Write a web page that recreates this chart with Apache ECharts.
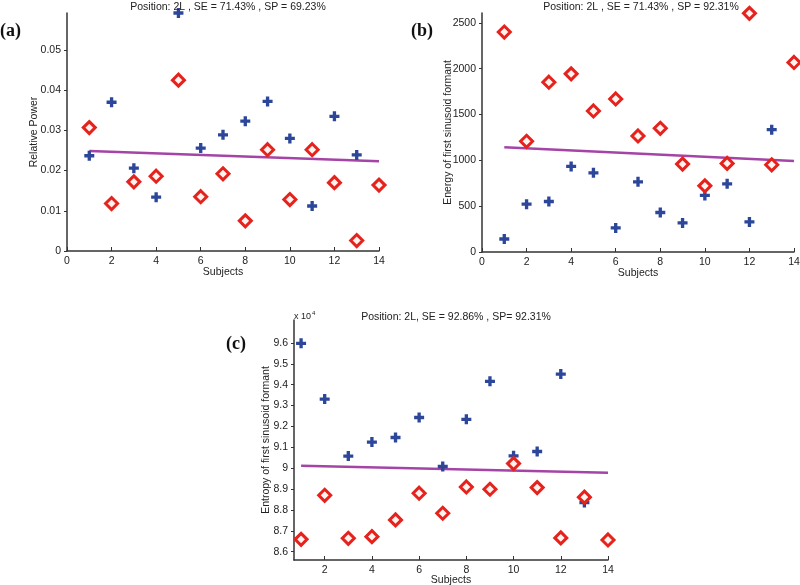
<!DOCTYPE html>
<html>
<head>
<meta charset="utf-8">
<script src="https://cdn.jsdelivr.net/npm/echarts@6/dist/echarts.min.js"></script>
<style>
  html, body { margin: 0; padding: 0; background: #fff; }
  #main { width: 800px; height: 585px; }
</style>
</head>
<body>
<div id="main"></div>
<script>
// subjects (x values)
var subjectsRed = [1, 2, 3, 4, 5, 6, 7, 8, 9, 10, 11, 12, 13, 14];
var subjectsBlue = [1, 2, 3, 4, 5, 6, 7, 8, 9, 10, 11, 12, 13];
var fitX = [1, 14];

// (a) relative power
var powerBlue = [0.0237, 0.0370, 0.0206, 0.0134, 0.0592, 0.0256, 0.0289, 0.0323, 0.0372, 0.0280, 0.0112, 0.0335, 0.0239];
var powerRed = [0.0307, 0.0118, 0.0172, 0.0186, 0.0425, 0.0135, 0.0192, 0.0075, 0.0252, 0.0128, 0.0252, 0.0170, 0.0026, 0.0164];
var powerFit = [0.0249, 0.0223];

// (b) energy of first sinusoid formant
var energyBlue = [142, 522, 551, 934, 864, 263, 766, 431, 317, 617, 744, 328, 1335];
var energyRed = [2400, 1208, 1853, 1944, 1539, 1670, 1266, 1350, 959, 722, 967, 2604, 952, 2068];
var energyFit = [1142, 992];

// (c) entropy of first sinusoid formant (x 10^4)
var entropyBlue = [9.598, 9.331, 9.058, 9.125, 9.147, 9.243, 9.008, 9.234, 9.416, 9.059, 9.080, 9.451, 8.835];
var entropyRed = [8.659, 8.870, 8.664, 8.672, 8.752, 8.880, 8.784, 8.910, 8.899, 9.022, 8.907, 8.666, 8.861, 8.656];
var entropyFit = [9.012, 8.978];

// tick values
var xTicksAB = [0, 2, 4, 6, 8, 10, 12, 14];
var xTicksC = [2, 4, 6, 8, 10, 12, 14];
var yTicksA = [0, 0.01, 0.02, 0.03, 0.04, 0.05];
var yTicksB = [0, 500, 1000, 1500, 2000, 2500];
var yTicksC = [8.6, 8.7, 8.8, 8.9, 9, 9.1, 9.2, 9.3, 9.4, 9.5, 9.6];

var titles = [
  'Position: 2L , SE = 71.43% , SP = 69.23%',
  'Position: 2L , SE = 71.43% , SP = 92.31%',
  'Position: 2L, SE = 92.86% , SP= 92.31%'
];

var BLUE = '#2c4699';
var RED = '#e5221c';
var FIT = '#a444a6';
var FONT = '"Liberation Sans", Arial, sans-serif';
var PLUS = 'path://M3,0H6V3H9V6H6V9H3V6H0V3H3Z';

function pairs(xs, ys) {
  return ys.map(function (v, i) { return [xs[i], v]; });
}

function plain(v) {
  return String(Math.round(v * 10000) / 10000);
}

function xAxis(grid, min, ticks, nameGap) {
  return {
    type: 'value', gridIndex: grid, min: min, max: 14,
    name: 'Subjects', nameLocation: 'middle', nameGap: nameGap, nameMoveOverlap: false,
    nameTextStyle: { fontFamily: FONT, fontSize: 10.5, color: '#222' },
    axisLine: { lineStyle: { color: '#333', width: 1.5 } },
    axisTick: { inside: true, length: 4, customValues: ticks, lineStyle: { color: '#333' } },
    axisLabel: { customValues: ticks, fontFamily: FONT, fontSize: 10.5, color: '#222', margin: 5, formatter: plain },
    splitLine: { show: false }
  };
}

function yAxis(grid, min, max, ticks, name, nameGap) {
  return {
    type: 'value', gridIndex: grid, min: min, max: max,
    name: name, nameLocation: 'middle', nameGap: nameGap, nameMoveOverlap: false,
    nameTextStyle: { fontFamily: FONT, fontSize: 10.5, color: '#222' },
    axisLine: { show: true, lineStyle: { color: '#333', width: 1.5 } },
    axisTick: { show: true, inside: false, length: 3, customValues: ticks, lineStyle: { color: '#333' } },
    axisLabel: { customValues: ticks, fontFamily: FONT, fontSize: 10.5, color: '#222', margin: 6, formatter: plain },
    splitLine: { show: false }
  };
}

function group(idx, blue, red, fit) {
  return [
    {
      type: 'line', xAxisIndex: idx, yAxisIndex: idx, data: pairs(fitX, fit),
      symbol: 'none', lineStyle: { color: FIT, width: 2.5 }, z: 2
    },
    {
      type: 'scatter', xAxisIndex: idx, yAxisIndex: idx, data: pairs(subjectsBlue, blue),
      symbol: PLUS, symbolSize: 10, itemStyle: { color: BLUE, opacity: 1 }, z: 3
    },
    {
      type: 'scatter', xAxisIndex: idx, yAxisIndex: idx, data: pairs(subjectsRed, red),
      symbol: 'diamond', symbolSize: [12, 12],
      itemStyle: { color: '#fff3f0', borderColor: RED, borderWidth: 3, opacity: 1 }, z: 4
    }
  ];
}

var titleStyle = { fontFamily: FONT, fontSize: 10.5, fontWeight: 'normal', color: '#222' };

var option = {
  backgroundColor: '#fff',
  animation: false,
  title: [
    { text: titles[0], left: 223, top: -3, textAlign: 'center', textStyle: titleStyle },
    { text: titles[1], left: 636, top: -3, textAlign: 'center', textStyle: titleStyle },
    { text: titles[2], left: 451, top: 307, textAlign: 'center', textStyle: titleStyle }
  ],
  graphic: [
    { type: 'text', left: 0, top: 22, style: { text: '(a)', font: 'bold 18px "Liberation Serif", serif', fill: '#111' } },
    { type: 'text', left: 411, top: 22, style: { text: '(b)', font: 'bold 18px "Liberation Serif", serif', fill: '#111' } },
    { type: 'text', left: 226, top: 335, style: { text: '(c)', font: 'bold 18px "Liberation Serif", serif', fill: '#111' } },
    { type: 'text', left: 294, top: 312, style: { text: 'x 10', font: '9px ' + FONT, fill: '#222' } },
    { type: 'text', left: 312, top: 310, style: { text: '4', font: '6px ' + FONT, fill: '#222' } }
  ],
  grid: [
    { left: 67, top: 13, width: 312, height: 238, outerBoundsMode: 'none' },
    { left: 482, top: 13, width: 312, height: 239, outerBoundsMode: 'none' },
    { left: 294, top: 320, width: 314, height: 240, outerBoundsMode: 'none' }
  ],
  xAxis: [
    xAxis(0, 0, xTicksAB, 16),
    xAxis(1, 0, xTicksAB, 16),
    xAxis(2, 0.7, xTicksC, 15)
  ],
  yAxis: [
    yAxis(0, 0, 0.0592, yTicksA, 'Relative Power', 27),
    yAxis(1, 0, 2608, yTicksB, 'Energy of first sinusoid formant', 28),
    yAxis(2, 8.56, 9.71, yTicksC, 'Entropy of first sinusoid formant', 22)
  ],
  series: [].concat(
    group(0, powerBlue, powerRed, powerFit),
    group(1, energyBlue, energyRed, energyFit),
    group(2, entropyBlue, entropyRed, entropyFit)
  )
};

var chart = echarts.init(document.getElementById('main'));
chart.setOption(option);
</script>
</body>
</html>
